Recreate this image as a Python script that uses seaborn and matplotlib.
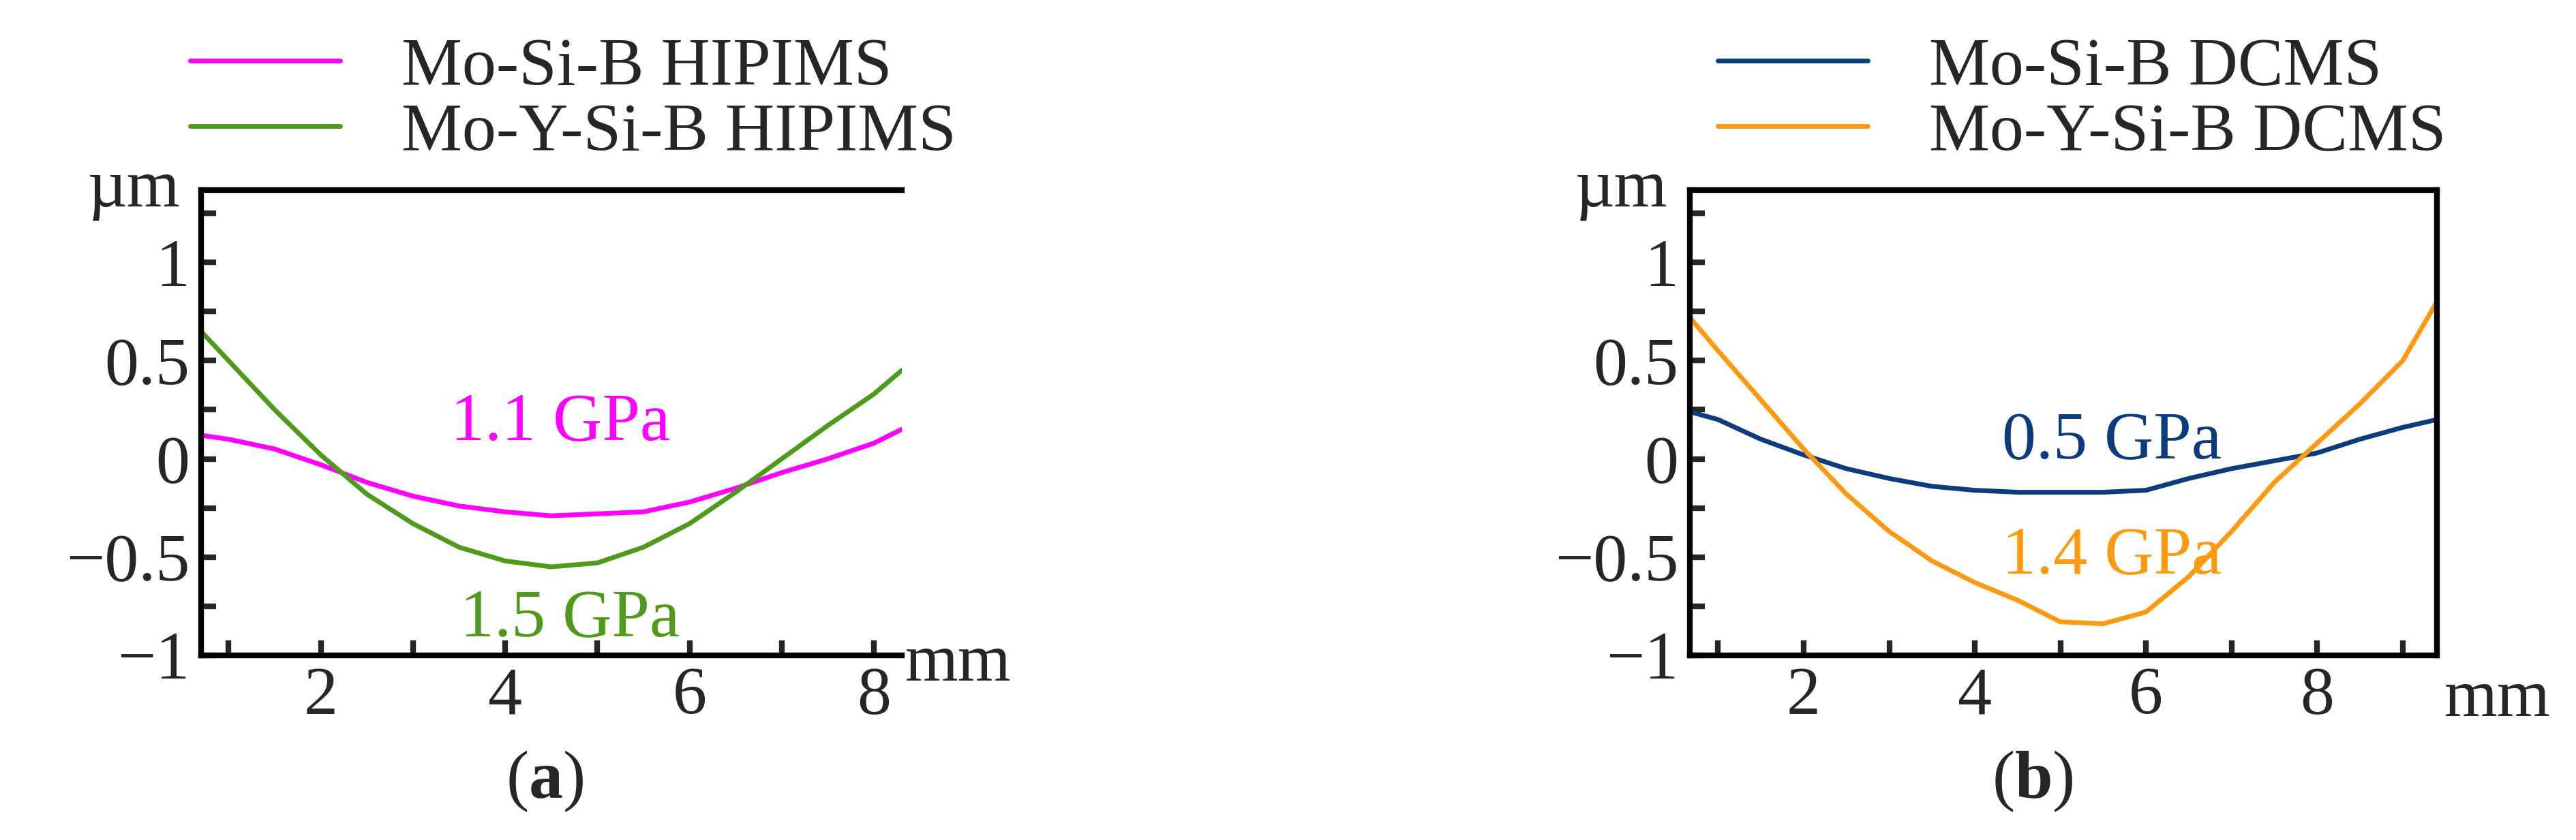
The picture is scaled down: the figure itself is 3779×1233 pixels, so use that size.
import numpy as np
import pandas as pd
import seaborn as sns
import matplotlib
matplotlib.use('Agg')
import matplotlib.pyplot as plt
from matplotlib.ticker import MultipleLocator
from matplotlib.lines import Line2D

# panel (a) - HIPIMS profiles
xa = [0.7, 1.0, 1.5, 2.0, 2.5, 3.0, 3.5, 4.0, 4.5, 5.0, 5.5, 6.0, 6.5, 7.0, 7.5, 8.0, 8.3]
mosib_hipims = [0.12, 0.10, 0.05, -0.03, -0.12, -0.19, -0.24, -0.27, -0.29, -0.28, -0.27, -0.22, -0.15, -0.07, 0.0, 0.08, 0.15]
moysib_hipims = [0.65, 0.50, 0.25, 0.02, -0.18, -0.33, -0.45, -0.52, -0.55, -0.53, -0.45, -0.33, -0.17, 0.0, 0.17, 0.33, 0.45]

# panel (b) - DCMS profiles
xb = [0.67, 1.0, 1.5, 2.0, 2.5, 3.0, 3.5, 4.0, 4.5, 5.0, 5.5, 6.0, 6.5, 7.0, 7.5, 8.0, 8.5, 9.0, 9.4]
mosib_dcms = [0.24, 0.20, 0.10, 0.02, -0.05, -0.10, -0.14, -0.16, -0.17, -0.17, -0.17, -0.16, -0.10, -0.05, -0.01, 0.03, 0.10, 0.16, 0.20]
moysib_dcms = [0.72, 0.55, 0.30, 0.05, -0.18, -0.37, -0.52, -0.63, -0.72, -0.83, -0.84, -0.78, -0.60, -0.37, -0.12, 0.08, 0.28, 0.50, 0.80]

sns.set_style('white')
plt.rcParams['font.family'] = ['Liberation Serif', 'DejaVu Serif']
plt.rcParams['mathtext.fontset'] = 'custom'
plt.rcParams['mathtext.bf'] = 'Liberation Serif:bold'
plt.rcParams['mathtext.rm'] = 'Liberation Serif'

FS = 72
fig = plt.figure(figsize=(37.79, 12.33), dpi=100)
ax_a = fig.add_axes([0.078, 0.22, 0.272, 0.554])
ax_b = fig.add_axes([0.656, 0.22, 0.290, 0.554])

df_a = pd.DataFrame({'x': xa * 2,
                     'y': mosib_hipims + moysib_hipims,
                     's': ['Mo-Si-B HIPIMS'] * len(xa) + ['Mo-Y-Si-B HIPIMS'] * len(xa)})
df_b = pd.DataFrame({'x': xb * 2,
                     'y': mosib_dcms + moysib_dcms,
                     's': ['Mo-Si-B DCMS'] * len(xb) + ['Mo-Y-Si-B DCMS'] * len(xb)})

sns.lineplot(data=df_a, x='x', y='y', hue='s', palette=['#ff00ff', '#4e9a1a'],
             linewidth=5, ax=ax_a, legend=False)
sns.lineplot(data=df_b, x='x', y='y', hue='s', palette=['#0b3d7e', '#ff9a10'],
             linewidth=5, ax=ax_b, legend=False)

for ax, xl in [(ax_a, (0.7, 8.3)), (ax_b, (0.67, 9.4))]:
    ax.set_xlim(*xl)
    ax.set_ylim(-1, 1.37)
    ax.set_xlabel('')
    ax.set_ylabel('')
    ax.xaxis.set_major_locator(MultipleLocator(2))
    ax.xaxis.set_minor_locator(MultipleLocator(1))
    ax.yaxis.set_minor_locator(MultipleLocator(0.25))
    ax.set_yticks([-1, -0.5, 0, 0.5, 1])
    ax.set_yticklabels(['\u22121', '\u22120.5', '0', '0.5', '1'])
    ax.tick_params(which='both', direction='in', length=16, width=6, labelsize=FS,
                   top=False, right=False, bottom=True, left=True, pad=12)
    for sp in ax.spines.values():
        sp.set_linewidth(6)
        sp.set_color('black')
    ax.text(-0.03, 1.0, '\u00b5m', transform=ax.transAxes, ha='right', va='center', fontsize=FS)
ax_a.spines['right'].set_visible(False)

ax_a.text(1.005, -0.02, 'mm', transform=ax_a.transAxes, ha='left', va='center', fontsize=FS)
ax_b.text(1.01, -0.03, 'mm', transform=ax_b.transAxes, ha='left', va='top', fontsize=FS)

ax_a.text(4.6, 0.1, '1.1 GPa', color='#ff00ff', ha='center', fontsize=FS)
ax_a.text(4.7, -0.9, '1.5 GPa', color='#4e9a1a', ha='center', fontsize=FS)
ax_b.text(5.6, 0.0, '0.5 GPa', color='#0b3d7e', ha='center', fontsize=FS)
ax_b.text(5.6, -0.58, '1.4 GPa', color='#ff9a10', ha='center', fontsize=FS)

# legends above each panel
for labels, cols, x0 in [(['Mo-Si-B HIPIMS', 'Mo-Y-Si-B HIPIMS'], ['#ff00ff', '#4e9a1a'], 0.058),
                         (['Mo-Si-B DCMS', 'Mo-Y-Si-B DCMS'], ['#0b3d7e', '#ff9a10'], 0.651)]:
    handles = [Line2D([], [], color=c, lw=5) for c in cols]
    fig.legend(handles, labels, loc='upper left', bbox_to_anchor=(x0, 1.005), frameon=False,
               fontsize=FS, handlelength=2.2, handletextpad=0.9, labelspacing=0.05,
               borderaxespad=0.2)

fig.text(0.2115, 0.07, r'($\mathbf{a}$)', ha='center', va='center', fontsize=FS)
fig.text(0.7890, 0.07, r'($\mathbf{b}$)', ha='center', va='center', fontsize=FS)

fig.savefig('out.png', dpi=100)
